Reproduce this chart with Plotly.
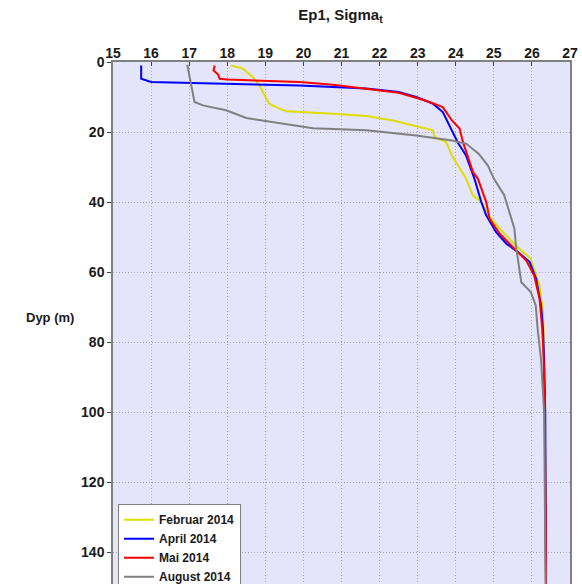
import plotly.graph_objects as go

# Sigma-t profiles at station Ep1 (density anomaly vs depth)
feb_sigma = [18.10, 18.41, 18.67, 18.85, 18.98, 19.10, 19.37, 19.55, 20.77, 21.65, 22.35, 22.96,
             23.40, 23.44, 23.75, 23.90, 24.05, 24.27, 24.45, 24.67, 24.93, 25.24, 25.58, 25.97,
             26.20, 26.29, 26.31, 26.34, 26.36, 26.37]
feb_depth = [1.0, 1.9, 4.3, 6.7, 9.5, 11.9, 13.3, 14.1, 14.8, 15.4, 16.7, 18.3,
             19.5, 21.4, 22.9, 26.7, 29.5, 33.3, 38.1, 40.0, 44.8, 48.6, 52.4, 56.2,
             63.8, 71.4, 80.0, 100.0, 125.0, 150.0]

apr_sigma = [15.74, 15.74, 16.00, 18.15, 19.90, 21.65, 22.50, 22.96, 23.40, 23.66, 23.83, 24.05,
             24.27, 24.49, 24.67, 24.80, 25.06, 25.33, 25.63, 25.94, 26.11, 26.24, 26.29, 26.32,
             26.35, 26.36, 26.37]
apr_depth = [1.0, 4.8, 5.7, 6.2, 6.7, 7.6, 8.6, 10.0, 11.9, 14.3, 18.0, 22.9,
             26.7, 33.3, 40.0, 43.8, 48.6, 51.9, 54.3, 57.1, 61.9, 69.5, 76.2, 85.0,
             100.0, 125.0, 150.0]

mai_sigma = [17.67, 17.64, 17.76, 17.80, 18.00, 19.00, 19.90, 20.77, 21.65, 22.50, 23.20, 23.66,
             23.90, 24.10, 24.19, 24.27, 24.45, 24.58, 24.80, 24.89, 25.15, 25.50, 25.85, 26.06,
             26.20, 26.27, 26.31, 26.34, 26.36, 26.37]
mai_depth = [1.0, 2.4, 3.6, 4.8, 5.0, 5.3, 5.7, 6.5, 7.6, 8.8, 11.0, 12.9,
             16.7, 19.0, 22.9, 25.7, 31.4, 33.3, 40.0, 44.8, 49.0, 52.9, 56.7, 61.0,
             67.6, 76.2, 85.0, 100.0, 125.0, 150.0]

aug_sigma = [16.95, 17.00, 17.06, 17.14, 17.36, 17.97, 18.50, 19.46, 20.25, 21.65, 22.96, 23.90,
             24.27, 24.60, 24.84, 25.00, 25.27, 25.41, 25.54, 25.58, 25.65, 25.72, 25.97, 26.10,
             26.15, 26.24, 26.32, 26.35, 26.36]
aug_depth = [0.8, 3.8, 7.6, 11.4, 12.4, 13.8, 16.0, 17.6, 18.9, 19.5, 21.0, 22.4,
             23.3, 26.2, 29.5, 33.3, 38.0, 42.9, 47.6, 52.4, 57.1, 62.9, 65.7, 69.5,
             76.2, 85.0, 100.0, 125.0, 150.0]

series = [
    ("Februar 2014", feb_sigma, feb_depth, "#dede00"),
    ("April 2014", apr_sigma, apr_depth, "#0000ff"),
    ("Mai 2014", mai_sigma, mai_depth, "#ff0000"),
    ("August 2014", aug_sigma, aug_depth, "#808080"),
]

x_ticks = list(range(15, 28))
y_ticks = list(range(0, 160, 20))

fig = go.Figure()
for name, xs, ys, col in series:
    fig.add_trace(go.Scatter(x=xs, y=ys, mode="lines", name=name,
                             line=dict(color=col, width=2)))

FAMILY = "Liberation Sans, Arial, sans-serif"
bold = dict(family=FAMILY, size=14, color="#1a1a1a", weight="bold")
grid_style = dict(showgrid=True, gridcolor="#a8a8b8", griddash="1px,2px", gridwidth=1,
                  zeroline=False)

fig.update_layout(
    width=582, height=584,
    margin=dict(l=113, r=12, t=62, b=0, autoexpand=False),
    paper_bgcolor="white",
    plot_bgcolor="#e4e4fa",
    showlegend=True,
    title=dict(text="Ep1, Sigma<sub>t</sub>", x=0.585, xanchor="center", y=0.975, yanchor="middle",
               font=dict(family=FAMILY, size=15, color="#1a1a1a", weight="bold")),
    legend=dict(x=0.011, y=0.153, xanchor="left", yanchor="top",
                bgcolor="white", bordercolor="#808080", borderwidth=1,
                font=dict(family=FAMILY, size=12, color="#1a1a1a", weight="bold"),
                tracegroupgap=0, itemwidth=30),
    xaxis=dict(side="top", range=[15, 27], tickvals=x_ticks, ticktext=[str(v) for v in x_ticks],
               ticks="inside", ticklen=4, tickcolor="#404040", ticklabelstandoff=-3,
               showline=True, linecolor="#808080", linewidth=1.5, mirror=False,
               tickfont=bold, **grid_style),
    yaxis=dict(range=[149.1, 0], tickvals=y_ticks, ticktext=[str(v) for v in y_ticks],
               ticks="outside", ticklen=4, tickcolor="#404040",
               showline=True, linecolor="#808080", linewidth=1.5, mirror=True,
               tickfont=bold, **grid_style),
    annotations=[dict(text="Dyp (m)", xref="paper", yref="paper", x=-0.138, y=0.51,
                      xanchor="center", yanchor="middle", showarrow=False,
                      font=dict(family=FAMILY, size=13, color="#1a1a1a", weight="bold"))],
)

fig.write_html("out.html")
